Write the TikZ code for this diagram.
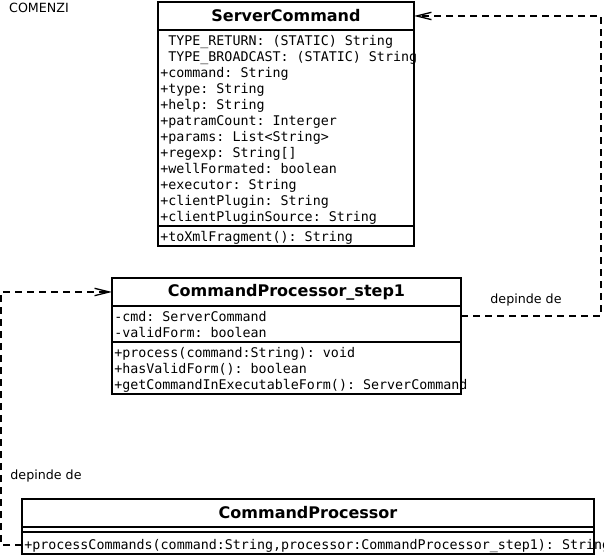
\documentclass[tikz,border=0pt]{standalone}
\usepackage{fontspec}
\setmainfont{DejaVu Sans}
\setmonofont{DejaVu Sans Mono}
\usetikzlibrary{positioning, arrows.meta}
\tikzset{
  x=0.75pt, y=-0.75pt,
  >={Straight Barb[length=11pt, width=5.5pt, line width=1pt]},
  compart/.style={draw, line width=1.1pt, inner sep=0pt, outer sep=0pt, anchor=north west},
  title/.style={compart, minimum height=21pt, font=\bfseries\fontsize{12pt}{14pt}\selectfont},
  member/.style={anchor=west, inner sep=0pt, text height=7.5pt, text depth=2pt,
    font=\ttfamily\fontsize{10pt}{12pt}\selectfont},
  dep/.style={->, line width=1.1pt, dash pattern=on 5.25pt off 3.75pt},
  note/.style={font=\fontsize{9.5pt}{11pt}\selectfont},
}

\begin{document}
\begin{tikzpicture}
  \useasboundingbox (0,0) rectangle (604,556);

  \node[note] (comenzi) at (39,8) {COMENZI};

  % ServerCommand
  \node[title, minimum width=192pt] (sct) at (158,2) {ServerCommand};
  \node[compart, below=0pt of sct.south west, anchor=north west, minimum width=192pt, minimum height=147pt] (sca) {};
  \node[compart, below=0pt of sca.south west, anchor=north west, minimum width=192pt, minimum height=15pt] (scm) {};
  \foreach \t [count=\i] in {\phantom{+}TYPE\_RETURN: (STATIC) String,
      \phantom{+}TYPE\_BROADCAST: (STATIC) String, +command: String, +type: String,
      +help: String, +patramCount: Interger, +params: List<String>,
      +regexp: String[], +wellFormated: boolean, +executor: String,
      +clientPlugin: String, +clientPluginSource: String}
    \node[member] (sca\i) at (160,25.5+16*\i) {\t};
  \node[member] (scm1) at (160,237.5) {+toXmlFragment(): String};

  % CommandProcessor_step1
  \node[title, minimum width=261.75pt] (s1t) at (112,278) {CommandProcessor\_step1};
  \node[compart, below=0pt of s1t.south west, anchor=north west, minimum width=261.75pt, minimum height=27pt] (s1a) {};
  \node[compart, below=0pt of s1a.south west, anchor=north west, minimum width=261.75pt, minimum height=39pt] (s1m) {};
  \foreach \t [count=\i] in {-cmd: ServerCommand, -validForm: boolean}
    \node[member] (s1a\i) at (114,301.5+16*\i) {\t};
  \foreach \t [count=\i] in {+process(command:String): void, +hasValidForm(): boolean,
      +getCommandInExecutableForm(): ServerCommand}
    \node[member] (s1m\i) at (114,337.5+16*\i) {\t};

  % CommandProcessor
  \node[title, minimum width=429pt] (cpt) at (22,499) {CommandProcessor};
  \node[compart, below=0pt of cpt.south west, anchor=north west, minimum width=429pt, minimum height=3.75pt] (cpa) {};
  \node[compart, below=0pt of cpa.south west, anchor=north west, minimum width=429pt, minimum height=16.5pt] (cpm) {};
  \node[member] (cpm1) at (24,545.5) {+processCommands(command:String,processor:CommandProcessor\_step1): String};

  % dependencies
  \coordinate (d1a) at (461,316);
  \coordinate (d1b) at (601,316);
  \coordinate (d1c) at (601,16);
  \draw[dep] (d1a) -- (d1b) -- (d1c) -- (sct.east);
  \node[note] (dep1) at (526,300) {depinde de};

  \coordinate (d2b) at (1,545);
  \coordinate (d2c) at (1,292);
  \draw[dep] (cpm.west |- d2b) -- (d2b) -- (d2c) -- (s1t.west);
  \node[note] (dep2) at (46,476) {depinde de};
\end{tikzpicture}
\end{document}
